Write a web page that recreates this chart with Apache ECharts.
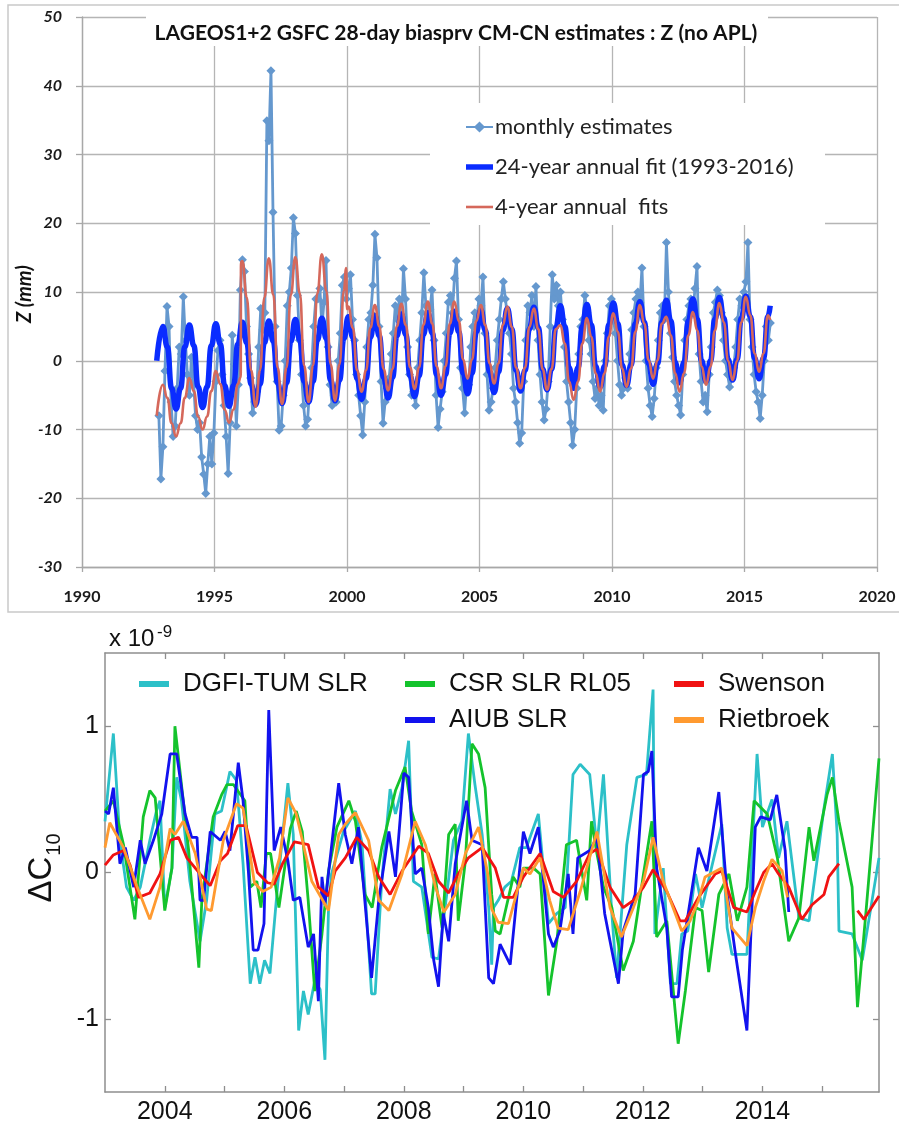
<!DOCTYPE html>
<html><head><meta charset="utf-8">
<script src="https://cdn.jsdelivr.net/npm/echarts@6/dist/echarts.min.js"></script>
<style>html,body{margin:0;padding:0;background:#fff}#c{width:899px;height:1125px}</style>
</head><body><div id="c"></div>
<script>
// ---------- TOP PANEL DATA ----------
const topTitle = 'LAGEOS1+2 GSFC 28-day biasprv CM-CN estimates : Z (no APL)';
const topXTicks = [1990, 1995, 2000, 2005, 2010, 2015, 2020];
const topYTicks = [-30, -20, -10, 0, 10, 20, 30, 40, 50];
const monthlyStart = 1992.90;   // first 28-day solution
const monthlyPerYear = 13;       // 28-day arcs per year
const monthlyValues = [
  -8.0, -17.2, -12.5, -1.5, 7.9, 5.0, -6.0, -11.0, -9.5, -4.0, 2.0, 1.0, 9.3,
  3.0, -2.0, -5.0, 0.5, -3.0, -8.0, -10.0, -9.0, -14.0, -16.5, -19.3, -15.0, -11.0,
  -15.0, -10.5, -3.0, 1.5, 3.0, -2.0, -6.5, -11.0, -16.4, -9.0, 3.7, -0.5, -9.5,
  -3.5, 10.3, 14.7, 13.0, 5.0, 1.0, -2.5, -7.6, -6.0, -4.5, 2.0, 7.6, 4.5,
  7.0, 34.9, 32.0, 42.2, 21.6, 5.0, -3.0, -10.1, -9.5, -5.0, 0.0, 8.0, 10.0,
  13.5, 20.8, 18.5, 9.5, 3.0, -2.0, -6.5, -9.5, -8.5, -4.0, -1.0, 5.0, 9.0,
  9.0, 10.5, 5.0, 8.5, 14.6, 2.0, -3.5, -6.5, -5.0, -6.0, 0.0, 4.0, 11.0,
  12.2, 9.0, 10.5, 12.5, 6.0, 3.0, -2.0, -5.0, -8.0, -10.8, -6.0, 2.0, 6.0,
  7.0, 11.0, 18.4, 15.0, 5.0, -3.0, -9.1, -6.0, -4.0, -2.5, 1.0, 4.0, 8.0,
  6.0, 9.0, 5.0, 13.4, 9.0, 2.0, -2.0, -5.0, -4.5, -6.5, -1.0, 3.0, 7.0,
  12.8, 8.0, 6.0, 7.5, 10.3, 3.0, -5.0, -9.7, -7.0, -4.5, 0.0, 4.0, 8.5,
  9.5, 7.0, 12.0, 14.5, 6.0, -1.0, -4.0, -7.6, -3.0, -3.5, 2.0, 5.0, 7.0,
  6.0, 9.0, 8.0, 12.2, 4.0, -2.0, -7.2, -6.0, -4.0, -1.0, 3.0, 6.0, 9.0,
  11.5, 9.0, 6.5, 4.0, 1.0, -4.0, -6.0, -9.0, -12.0, -10.5, -3.0, 3.0, 8.0,
  7.0, 9.5, 5.0, 10.8, 3.0, -2.0, -6.0, -8.6, -7.0, -3.0, 5.0, 12.5, 9.0,
  11.0, 8.0, 10.0, 6.0, 2.0, -3.0, -6.0, -9.0, -12.3, -10.0, -4.0, 1.0, 5.0,
  6.0, 9.5, 7.0, 3.0, 1.0, -3.0, -5.5, -4.0, -6.5, -5.0, -7.2, 0.0, 4.0,
  8.0, 9.0, 6.0, 4.0, 0.0, -3.5, -5.0, -4.0, -2.5, -4.0, 1.0, 4.5, 7.0,
  9.0, 10.0, 8.5, 13.5, 5.0, 0.0, -4.0, -6.5, -8.1, -5.5, -1.0, 3.0, 7.0,
  8.0, 6.0, 17.2, 10.0, 4.0, 0.5, -3.0, -5.0, -6.5, -7.9, -2.0, 3.0, 6.0,
  8.0, 9.0, 7.0, 10.5, 13.7, 1.0, -3.0, -6.0, -5.0, -7.4, -2.0, 2.0, 7.0,
  8.5, 10.3, 9.5, 7.0, 3.0, 0.0, -2.0, -3.8, -2.5, -1.0, 2.0, 6.0, 9.0,
  8.0, 10.0, 11.5, 17.2, 6.0, 2.0, -2.0, -4.5, -6.0, -8.4, -5.0, 0.0, 5.0,
  3.0, 5.5
];
// fit curves read at 6 phases per year
const fitYears = [1993,1994,1995,1996,1997,1998,1999,2000,2001,2002,2003,2004,2005,2006,2007,2008,2009,2010,2011,2012,2013,2014,2015];
const fitPhase = [0.05, 0.22, 0.38, 0.55, 0.72, 0.88];
const fit24Values = [
  5.0,2.0,-4.0,-7.0,-4.0,2.0,  5.2,2.2,-3.8,-6.8,-3.8,2.2,  5.4,2.4,-3.6,-6.6,-3.6,2.4,
  5.6,2.6,-3.4,-6.4,-3.4,2.6,  5.8,2.8,-3.2,-6.2,-3.2,2.8,  6.0,3.0,-3.0,-6.0,-3.0,3.0,
  6.2,3.2,-2.8,-5.8,-2.8,3.2,  6.4,3.4,-2.6,-5.6,-2.6,3.4,  6.6,3.6,-2.4,-5.4,-2.4,3.6,
  6.8,3.8,-2.2,-5.2,-2.2,3.8,  7.0,4.0,-2.0,-5.0,-2.0,4.0,  7.2,4.2,-1.8,-4.8,-1.8,4.2,
  7.4,4.4,-1.6,-4.6,-1.6,4.4,  7.6,4.6,-1.4,-4.4,-1.4,4.6,  7.8,4.8,-1.2,-4.2,-1.2,4.8,
  8.0,5.0,-1.0,-4.0,-1.0,5.0,  8.2,5.2,-0.8,-3.8,-0.8,5.2,  8.4,5.4,-0.6,-3.6,-0.6,5.4,
  8.6,5.6,-0.4,-3.4,-0.4,5.6,  8.8,5.8,-0.2,-3.2,-0.2,5.8,  9.0,6.0,0.0,-3.0,0.0,6.0,
  9.2,6.2,0.2,-2.8,0.2,6.2,  9.4,6.4,0.4,-2.6,0.4,6.4
];
const fit24Ends = [[1992.82, 0.0], [2015.97, 8.0]];
const fit4Values = [
  -3.5,-5.4,-9.1,-11.0,-9.1,-5.4,  -2.5,-4.4,-8.1,-10.0,-8.1,-4.4,  -1.5,-3.4,-7.1,-9.0,-7.1,-3.4,
  14.5,9.2,-1.4,-6.7,-1.4,9.2,  14.9,9.6,-1.0,-6.3,-1.0,9.6,  15.1,9.8,-0.7,-6.0,-0.7,9.8,
  15.5,10.2,-0.5,-5.8,-0.5,10.2,  7.9,4.8,-1.4,-4.5,-1.4,4.8,  8.1,5.0,-1.2,-4.3,-1.2,5.0,
  8.3,5.2,-1.0,-4.1,-1.0,5.2,  8.6,5.4,-0.8,-4.0,-0.8,5.4,  8.6,5.8,0.2,-2.6,0.2,5.8,
  8.1,5.2,-0.4,-3.3,-0.4,5.2,  7.9,4.9,-1.0,-4.0,-1.0,4.9,  7.6,4.6,-1.2,-4.2,-1.2,4.6,
  5.2,2.5,-3.0,-5.7,-3.0,2.5,  6.2,3.5,-1.8,-4.5,-1.8,3.5,  6.9,4.2,-1.1,-3.8,-1.1,4.2,
  8.1,5.4,0.1,-2.6,0.1,5.4,  6.4,3.7,-1.8,-4.5,-1.8,3.7,  7.1,4.4,-0.8,-3.5,-0.8,4.4,
  8.4,5.6,0.0,-2.8,0.0,5.6,  9.3,6.6,1.1,-1.6,1.1,6.6
];
const fit4Breaks = [[1992.82,-8.0],[1995.99,-2.4],[1996.0,14.4],[1999.97,13.5],[2000.0,7.5],[2015.97,5.9]];
const topNames = ['monthly estimates', '24-year annual fit (1993-2016)', '4-year annual  fits'];

// ---------- BOTTOM PANEL DATA (x 1e-9) ----------
const botXTickYears = [2004,2005,2006,2007,2008,2009,2010,2011,2012,2013,2014,2015];
const botXLabelYears = [2004,2006,2008,2010,2012,2014];
const botYTicks = [-1, 0, 1];
const botNames = ['DGFI-TUM SLR','CSR SLR RL05','AIUB SLR','Swenson','Rietbroek'];

const dgfiT = [2003.00,2003.14,2003.25,2003.36,2003.48,2003.59,2003.75,2003.86,2003.92,2004.00,2004.12,2004.20,2004.28,2004.42,2004.59,2004.70,2004.84,2004.95,2005.09,2005.20,2005.31,2005.43,2005.51,2005.59,2005.67,2005.76,2005.89,2006.06,2006.15,2006.24,2006.32,2006.40,2006.51,2006.60,2006.68,2006.74,2006.79,2006.99,2007.19,2007.30,2007.46,2007.52,2007.63,2007.77,2007.86,2007.97,2008.08,2008.16,2008.30,2008.47,2008.58,2008.69,2008.83,2008.97,2009.08,2009.19,2009.31,2009.42,2009.47,2009.50,2009.58,2009.69,2009.80,2009.94,2010.05,2010.25,2010.42,2010.56,2010.70,2010.83,2010.95,2011.11,2011.23,2011.34,2011.48,2011.56,2011.73,2011.90,2012.06,2012.17,2012.20,2012.34,2012.46,2012.57,2012.65,2012.75,2012.88,2012.99,2013.32,2013.41,2013.49,2013.74,2013.91,2014.00,2014.16,2014.27,2014.41,2014.61,2014.78,2015.03,2015.17,2015.25,2015.28,2015.50,2015.67,2015.95];
const dgfiV = [0.35,0.95,0.22,-0.10,-0.19,-0.10,0.22,0.42,0.49,-0.24,0.03,0.65,0.49,-0.06,-0.47,-0.19,0.40,0.42,0.69,0.63,0.06,-0.76,-0.58,-0.76,-0.60,-0.69,-0.08,0.61,0.26,-1.08,-0.81,-0.97,-0.74,-0.80,-1.28,-0.24,-0.01,0.28,0.42,0.20,-0.83,-0.83,-0.06,0.57,0.40,0.58,0.90,-0.06,-0.10,-0.58,-0.59,-0.24,0.22,0.35,0.95,0.60,0.26,-0.24,-0.63,-0.24,-0.19,-0.10,-0.06,0.17,0.17,0.40,-0.35,-0.28,-0.24,0.67,0.74,0.67,0.17,0.67,-0.28,-0.72,0.19,0.65,0.67,1.25,-0.42,0.03,-0.76,-0.76,-0.42,-0.40,-0.01,-0.24,0.33,-0.38,-0.56,-0.56,0.81,0.31,0.50,0.10,0.35,-0.31,-0.33,0.44,0.81,0.26,-0.40,-0.42,-0.60,0.10];

const csrT = [2003.00,2003.14,2003.31,2003.50,2003.64,2003.75,2003.84,2004.00,2004.12,2004.17,2004.31,2004.40,2004.57,2004.62,2004.81,2004.95,2005.04,2005.15,2005.34,2005.43,2005.54,2005.61,2005.70,2005.77,2005.91,2006.10,2006.20,2006.30,2006.40,2006.51,2006.63,2006.74,2006.88,2007.08,2007.19,2007.35,2007.47,2007.63,2007.86,2008.02,2008.13,2008.30,2008.41,2008.52,2008.64,2008.75,2008.86,2008.91,2009.03,2009.14,2009.25,2009.36,2009.47,2009.53,2009.61,2009.83,2009.94,2010.00,2010.17,2010.28,2010.42,2010.56,2010.72,2010.89,2011.06,2011.14,2011.23,2011.34,2011.48,2011.67,2011.84,2012.01,2012.15,2012.23,2012.40,2012.59,2012.71,2012.88,2012.99,2013.10,2013.27,2013.44,2013.58,2013.74,2013.86,2014.08,2014.25,2014.44,2014.61,2014.78,2014.86,2015.08,2015.17,2015.28,2015.50,2015.59,2015.73,2015.95];
const csrV = [0.42,0.49,0.19,-0.32,0.38,0.56,0.51,-0.26,0.03,1.00,0.49,0.15,-0.65,-0.19,0.38,0.53,0.60,0.60,0.49,-0.10,-0.06,-0.24,0.13,0.13,-0.24,0.30,0.42,0.28,-0.19,-0.81,-0.42,0.01,0.31,0.49,0.35,-0.15,-0.24,0.17,0.56,0.72,0.42,0.19,-0.42,-0.01,-0.38,0.26,0.33,-0.33,0.08,0.88,0.81,0.58,-0.15,-0.40,-0.42,-0.03,-0.10,0.03,0.03,-0.01,-0.84,-0.47,0.19,0.22,-0.19,0.35,0.13,-0.10,-0.24,-0.67,-0.47,-0.01,0.35,-0.44,-0.33,-1.17,-0.81,-0.24,-0.26,-0.68,-0.15,-0.01,-0.33,-0.10,0.49,0.40,0.10,-0.47,-0.31,0.31,0.08,0.53,0.65,0.35,-0.10,-0.92,-0.28,0.78];

const aiubT = [2003.00,2003.06,2003.14,2003.25,2003.34,2003.48,2003.59,2003.67,2003.81,2003.95,2004.09,2004.20,2004.34,2004.45,2004.54,2004.59,2004.65,2004.76,2004.93,2005.01,2005.09,2005.23,2005.31,2005.40,2005.48,2005.56,2005.66,2005.74,2005.83,2005.94,2006.06,2006.15,2006.26,2006.40,2006.49,2006.57,2006.63,2006.68,2006.91,2007.02,2007.13,2007.24,2007.46,2007.58,2007.75,2007.86,2008.00,2008.08,2008.19,2008.30,2008.41,2008.50,2008.58,2008.66,2008.75,2008.86,2009.05,2009.14,2009.31,2009.42,2009.50,2009.61,2009.78,2010.00,2010.11,2010.25,2010.42,2010.50,2010.61,2010.75,2010.83,2010.91,2011.11,2011.23,2011.36,2011.45,2011.59,2011.67,2011.87,2012.01,2012.09,2012.15,2012.23,2012.40,2012.48,2012.59,2012.66,2012.75,2012.93,2013.07,2013.27,2013.41,2013.55,2013.74,2013.88,2013.97,2014.13,2014.24,2014.38,2014.44];
const aiubV = [0.42,0.40,0.58,0.06,0.17,-0.10,0.22,0.06,0.22,0.40,0.81,0.81,0.40,0.24,0.24,-0.19,-0.19,0.28,0.22,0.28,0.15,0.75,0.49,0.00,-0.53,-0.53,-0.35,1.11,0.15,0.31,0.08,-0.19,-0.17,-0.51,-0.42,-0.88,-0.03,-0.22,0.61,0.26,0.06,0.31,-0.72,-0.19,0.28,-0.03,0.68,0.65,-0.01,0.03,-0.24,-0.60,-0.78,-0.28,-0.47,0.06,0.49,0.22,0.19,-0.72,-0.76,-0.49,-0.63,0.28,0.13,0.31,-0.42,-0.51,-0.40,-0.01,-0.42,0.10,0.15,0.24,-0.28,-0.47,-0.76,-0.40,-0.15,0.67,0.69,0.83,0.03,-0.38,-0.85,-0.85,-0.53,-0.30,0.17,0.01,0.55,-0.15,-0.56,-1.08,0.31,0.38,0.36,0.53,0.15,-0.27];

const swensonT = [2003.00,2003.14,2003.31,2003.42,2003.56,2003.75,2003.92,2004.09,2004.23,2004.37,2004.59,2004.76,2004.93,2005.05,2005.22,2005.36,2005.55,2005.72,2005.83,2005.97,2006.17,2006.40,2006.57,2006.74,2006.85,2007.02,2007.21,2007.41,2007.58,2007.77,2007.97,2008.25,2008.41,2008.58,2008.75,2008.91,2009.08,2009.31,2009.53,2009.67,2009.83,2010.00,2010.28,2010.50,2010.67,2010.89,2011.11,2011.23,2011.45,2011.67,2011.84,2012.01,2012.17,2012.40,2012.62,2012.71,2012.93,2013.21,2013.32,2013.52,2013.74,2013.88,2014.02,2014.16,2014.27,2014.44,2014.66,2014.83,2015.03,2015.11,2015.28,2015.40,2015.59,2015.70,2015.95];
const swensonV = [0.05,0.12,0.15,0.05,-0.17,-0.14,-0.01,0.22,0.24,0.10,-0.01,-0.09,0.08,0.13,0.32,0.32,0.00,-0.07,-0.08,0.06,0.21,0.19,-0.10,-0.16,0.01,0.10,0.24,0.15,-0.03,-0.15,0.01,0.18,0.13,-0.06,-0.14,-0.01,0.10,0.17,0.03,-0.17,-0.17,-0.03,0.13,-0.13,-0.17,-0.06,0.13,0.16,-0.10,-0.24,-0.19,-0.10,0.02,-0.13,-0.33,-0.33,-0.17,-0.01,0.01,-0.24,-0.27,-0.13,0.00,0.06,-0.01,-0.10,-0.32,-0.22,-0.15,-0.03,0.06,null,-0.26,-0.32,-0.16];

const rietT = [2003.00,2003.08,2003.31,2003.53,2003.75,2003.92,2004.09,2004.17,2004.31,2004.51,2004.70,2004.78,2004.98,2005.20,2005.31,2005.50,2005.64,2005.78,2005.92,2006.06,2006.20,2006.46,2006.74,2006.91,2007.02,2007.19,2007.41,2007.58,2007.75,2007.97,2008.19,2008.36,2008.53,2008.67,2008.86,2009.03,2009.25,2009.40,2009.47,2009.58,2009.75,2010.00,2010.11,2010.28,2010.44,2010.58,2010.75,2010.95,2011.23,2011.45,2011.64,2011.84,2012.01,2012.17,2012.34,2012.65,2012.79,2012.93,2013.04,2013.32,2013.49,2013.74,2013.88,2014.02,2014.16,2014.33,2014.42];
const rietV = [0.17,0.34,0.17,-0.09,-0.32,-0.10,0.30,0.26,0.35,0.13,-0.25,-0.26,0.22,0.47,0.44,-0.07,-0.13,-0.10,0.10,0.51,0.40,-0.06,-0.26,0.26,0.33,0.41,0.22,-0.19,-0.26,-0.01,0.35,0.19,-0.10,-0.27,-0.15,0.13,0.31,0.00,-0.25,-0.34,-0.35,0.03,-0.01,0.10,-0.19,-0.38,-0.39,-0.13,0.28,-0.24,-0.44,-0.24,-0.06,0.24,-0.06,-0.40,-0.33,-0.19,-0.03,0.03,-0.38,-0.50,-0.24,-0.06,0.09,0.01,-0.17];

// ---------- BUILD ----------
const pairs = (T, V) => T.map((t, i) => [t, V[i]]);
const monthlyData = monthlyValues.map((v, i) => [monthlyStart + i / monthlyPerYear, v]);
function fitData(values, extra) {
  const out = [];
  fitYears.forEach((y, j) => fitPhase.forEach((p, k) => out.push([y + p, values[j * 6 + k]])));
  return out.concat(extra).sort((a, b) => a[0] - b[0]);
}
const fit24Data = fitData(fit24Values, fit24Ends);
const fit4Data = fitData(fit4Values, fit4Breaks);

const topFont = 'Lato, "Open Sans", sans-serif';
const botFont = '"Liberation Sans", Arial, sans-serif';
const gridGrey = '#B5B5B5';
const frameGrey = '#8E8E8E';
const monthlyColor = '#6598CE';
const fit24Color = '#0A2CFF';
const fit4Color = '#D5685B';

const chart = echarts.init(document.getElementById('c'), null, {renderer: 'canvas'});

function botX(pos, labels) {
  return {
    gridIndex: 1, type: 'value', min: 2003, max: 2015.95, position: pos,
    axisLine: {show: true, onZero: false, lineStyle: {color: frameGrey, width: 1.5}},
    axisTick: {show: true, inside: true, length: 6, customValues: botXTickYears, lineStyle: {color: frameGrey, width: 1.3}},
    axisLabel: labels ? {show: true, customValues: botXLabelYears, fontFamily: botFont, fontSize: 25, color: '#111', margin: 8, formatter: v => String(v)} : {show: false},
    splitLine: {show: false}
  };
}
function botY(pos, labels) {
  return {
    gridIndex: 1, type: 'value', min: -1.5, max: 1.5, position: pos,
    axisLine: {show: true, onZero: false, lineStyle: {color: frameGrey, width: 1.5}},
    axisTick: {show: true, inside: true, length: 6, customValues: botYTicks, lineStyle: {color: frameGrey, width: 1.3}},
    axisLabel: labels ? {show: true, customValues: botYTicks, fontFamily: botFont, fontSize: 25, color: '#111', margin: 6, formatter: v => String(v)} : {show: false},
    splitLine: {show: false}
  };
}

const botColors = ['#2CC0C8', '#14C32C', '#1212EE', '#F01212', '#FF9A30'];
const botSeriesData = [pairs(dgfiT, dgfiV), pairs(csrT, csrV), pairs(aiubT, aiubV), pairs(swensonT, swensonV), pairs(rietT, rietV)];
const botOrder = [0, 1, 2, 3, 4];
const botLegendText = {fontFamily: botFont, fontSize: 26, color: '#111', lineHeight: 25, padding: [0, 0, 0, 9]};

const option = {
  animation: false,
  backgroundColor: '#fff',
  grid: [
    {left: 82, top: 17, width: 795, height: 550},
    {left: 105, top: 653, width: 774, height: 439}
  ],
  xAxis: [
    {
      gridIndex: 0, type: 'value', min: 1990, max: 2020, interval: 5,
      axisLine: {show: true, onZero: false, lineStyle: {color: '#A8A8A8', width: 1.3}},
      axisTick: {show: true, length: 5, lineStyle: {color: '#A8A8A8', width: 1.3}},
      splitLine: {show: true, lineStyle: {color: gridGrey, width: 1.3}},
      axisLabel: {fontFamily: topFont, fontWeight: 'bold', fontSize: 16, color: '#1a1a1a', margin: 22, formatter: v => String(v)}
    },
    botX('bottom', true), botX('top', false)
  ],
  yAxis: [
    {
      gridIndex: 0, type: 'value', min: -30, max: 50, interval: 10,
      axisLine: {show: true, onZero: false, lineStyle: {color: '#A8A8A8', width: 1.3}},
      axisTick: {show: true, length: 6, lineStyle: {color: '#A8A8A8', width: 1.3}},
      splitLine: {show: true, lineStyle: {color: gridGrey, width: 1.3}},
      axisLabel: {fontFamily: topFont, fontWeight: 'bold', fontStyle: 'italic', fontSize: 16, color: '#1a1a1a', margin: 20, formatter: v => String(v)}
    },
    botY('left', true), botY('right', false)
  ],
  legend: [
    {
      data: [
        {name: topNames[0]},
        {name: topNames[1], icon: 'path://M0,0H27V5.5H0Z', itemStyle: {color: fit24Color}},
        {name: topNames[2], icon: 'path://M0,0H27V2.6H0Z', itemStyle: {color: fit4Color}}
      ],
      orient: 'vertical', left: 465, top: 116, itemWidth: 27, itemHeight: 14, itemGap: 18,
      padding: 0, z: 20,
      textStyle: {fontFamily: topFont, fontSize: 22, color: '#222', lineHeight: 22, padding: [0, 0, 0, -3]}
    },
    {data: ['DGFI-TUM SLR'], left: 139, top: 671, icon: 'rect', itemWidth: 30, itemHeight: 6, padding: 0, textStyle: botLegendText},
    {data: ['CSR SLR RL05', 'AIUB SLR'], orient: 'vertical', left: 405, top: 671, icon: 'rect', itemWidth: 30, itemHeight: 6, itemGap: 10, padding: 0, textStyle: botLegendText},
    {data: ['Swenson', 'Rietbroek'], orient: 'vertical', left: 674, top: 671, icon: 'rect', itemWidth: 30, itemHeight: 6, itemGap: 10, padding: 0, textStyle: botLegendText}
  ],
  graphic: [
    {type: 'rect', z: 1, silent: true, shape: {x: 8, y: 5, width: 900, height: 607}, style: {fill: 'none', stroke: '#C9C9C9', lineWidth: 1.5}},
    {type: 'rect', z: 15, silent: true, shape: {x: 146, y: 9, width: 622, height: 37}, style: {fill: '#fff'}},
    {type: 'text', z: 16, x: 456, y: 33, silent: true, style: {text: topTitle, fontFamily: topFont, fontWeight: 'bold', fontSize: 21, fill: '#111', align: 'center', verticalAlign: 'middle'}},
    {type: 'rect', z: 15, silent: true, shape: {x: 430, y: 103, width: 395, height: 122}, style: {fill: '#fff'}},
    {type: 'text', z: 16, x: 25, y: 294, rotation: Math.PI / 2, silent: true, style: {text: 'Z (mm)', fontFamily: topFont, fontWeight: 'bold', fontStyle: 'italic', fontSize: 20, fill: '#111', align: 'center', verticalAlign: 'middle'}},
    {type: 'text', z: 16, x: 109, y: 639, silent: true, style: {text: 'x 10', fontFamily: botFont, fontSize: 24, fill: '#111', align: 'left', verticalAlign: 'middle'}},
    {type: 'text', z: 16, x: 157, y: 632, silent: true, style: {text: '-9', fontFamily: botFont, fontSize: 17, fill: '#111', align: 'left', verticalAlign: 'middle'}},
    {type: 'text', z: 16, x: 42, y: 868, rotation: Math.PI / 2, silent: true, style: {
      text: '{a|ΔC}{b|10}', align: 'center', verticalAlign: 'middle',
      rich: {a: {fontFamily: botFont, fontSize: 33, fill: '#111', verticalAlign: 'bottom'}, b: {fontFamily: botFont, fontSize: 20, fill: '#111', verticalAlign: 'bottom', padding: [0, 0, -6, 1]}}
    }}
  ],
  series: [
    {
      name: topNames[0], type: 'line', xAxisIndex: 0, yAxisIndex: 0, data: monthlyData,
      symbol: 'diamond', symbolSize: 9, showSymbol: true, z: 3,
      lineStyle: {color: monthlyColor, width: 2.8}, itemStyle: {color: monthlyColor}
    },
    {
      name: topNames[1], type: 'line', xAxisIndex: 0, yAxisIndex: 0, data: fit24Data,
      symbol: 'none', smooth: 0.5, smoothMonotone: 'x', z: 4,
      lineStyle: {color: fit24Color, width: 5.5}, itemStyle: {color: fit24Color}
    },
    {
      name: topNames[2], type: 'line', xAxisIndex: 0, yAxisIndex: 0, data: fit4Data,
      symbol: 'none', smooth: 0.5, smoothMonotone: 'x', z: 5,
      lineStyle: {color: fit4Color, width: 2.6}, itemStyle: {color: fit4Color}
    }
  ].concat(botOrder.map(i => ({
    name: botNames[i], type: 'line', xAxisIndex: 1, yAxisIndex: 1, data: botSeriesData[i],
    symbol: 'none', connectNulls: false, z: 3 + i,
    lineStyle: {color: botColors[i], width: 2.8}, itemStyle: {color: botColors[i]}
  })))
};
chart.setOption(option);
</script></body></html>
